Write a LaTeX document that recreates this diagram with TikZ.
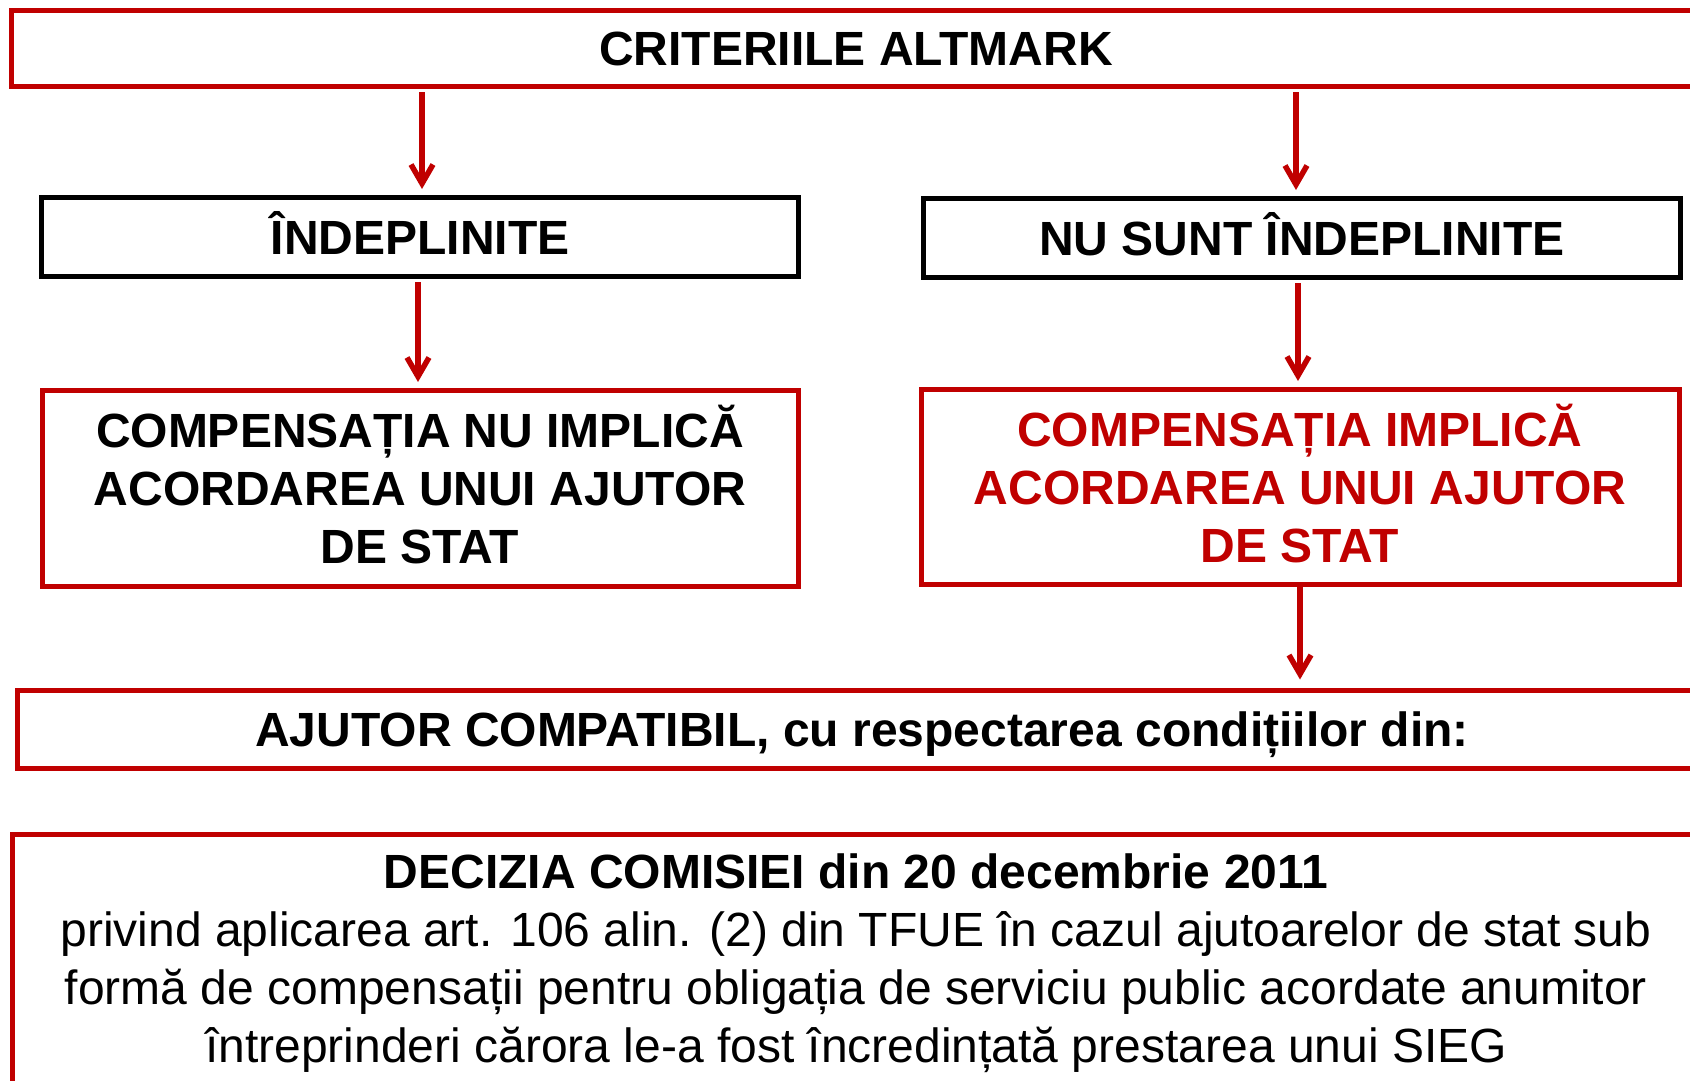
\documentclass[tikz,border=0pt]{standalone}
\usepackage{fontspec}
\setmainfont{Liberation Sans}
\usepackage{xcolor}
\usetikzlibrary{positioning}
\usetikzlibrary{arrows.meta}
\definecolor{altred}{RGB}{192,0,0}

\begin{document}
\begin{tikzpicture}[x=1pt, y=-1pt, line width=5pt,
	big/.style={font=\fontsize{48}{58}\selectfont\bfseries},
	red box/.style={draw=altred, rectangle, align=center, inner sep=0pt, big},
	black box/.style={draw=black, rectangle, align=center, inner sep=0pt, big},
	one line/.style={text height=34pt, text depth=0pt},
	flow/.style={color=altred, line width=5.5pt, -{Straight Barb[length=19pt,width=22pt]}}]

  \clip (0,0) rectangle (1690,1081);

  \node[red box, one line, minimum width=1690pt, minimum height=76pt] (crit) at (856,49) {CRITERIILE ALTMARK};
  \node[black box, one line, minimum width=757pt, minimum height=79pt] (ind) at (420,237) {ÎNDEPLINITE};
  \node[black box, one line, minimum width=757pt, minimum height=79pt] (nuind) at (1302,238) {NU SUNT ÎNDEPLINITE};
  \node[red box, minimum width=756pt, minimum height=196pt] (fara) [below=109pt of ind] {COMPENSAȚIA NU IMPLICĂ\\ACORDAREA UNUI AJUTOR\\DE STAT\rule[-8pt]{0pt}{8pt}};
  \node[red box, minimum width=758pt, minimum height=195pt, text=altred] (cu) [below=107pt of nuind, xshift=-2pt] {COMPENSAȚIA IMPLICĂ\\ACORDAREA UNUI AJUTOR\\DE STAT\rule[-8pt]{0pt}{8pt}};
  \node[red box, one line, minimum width=1690pt, minimum height=78pt] (compat) at (862,729) {AJUTOR COMPATIBIL, cu respectarea condițiilor din:};
  \node[red box, anchor=north, minimum width=1688pt, inner ysep=19pt, font=\fontsize{48}{58}\selectfont] (decizia) at (856,832)
    {\textbf{DECIZIA COMISIEI din 20 decembrie 2011}\\
     privind aplicarea art. 106 alin. (2) din TFUE în cazul ajutoarelor de stat sub\\
     formă de compensații pentru obligația de serviciu public acordate anumitor\\
     întreprinderi cărora le-a fost încredințată prestarea unui SIEG};

  \path[flow, shorten <=3pt, shorten >=6pt] ([xshift=2pt]ind.north |- crit.south) edge [] ([xshift=2pt]ind.north);
  \path[flow, shorten <=3pt, shorten >=6pt] ([xshift=-6pt]nuind.north |- crit.south) edge [] ([xshift=-6pt]nuind.north);
  \path[flow, shorten <=3pt, shorten >=6pt] ([xshift=-2pt]ind.south) edge [] ([xshift=-2pt]fara.north);
  \path[flow, shorten <=3pt, shorten >=6pt] ([xshift=-4pt]nuind.south) edge [] ([xshift=-4pt]nuind.south |- cu.north);
  \path[flow, shorten >=8pt] (cu.south) edge [] (cu.south |- compat.north);
\end{tikzpicture}
\end{document}
